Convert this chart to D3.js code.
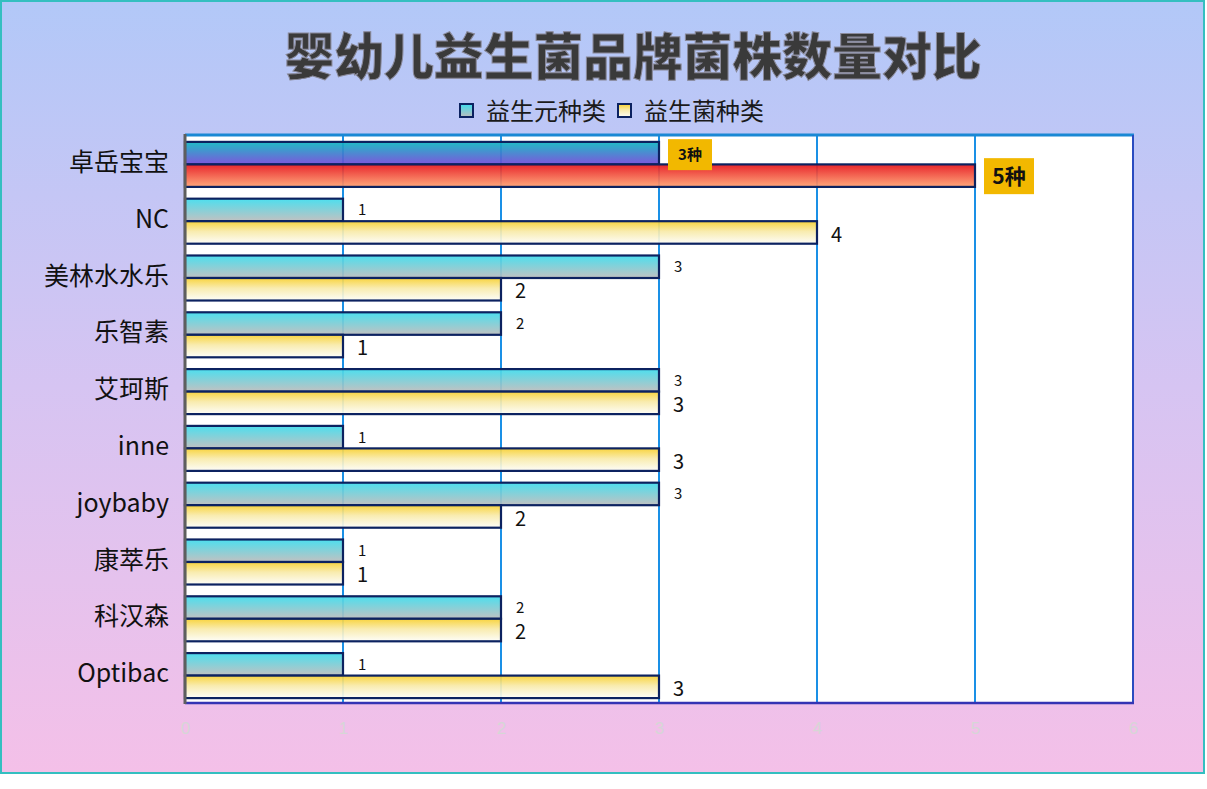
<!DOCTYPE html>
<html><head><meta charset="utf-8">
<script src="https://cdn.jsdelivr.net/npm/d3@7"></script>
<style>html,body{margin:0;padding:0;background:#fff;}svg{display:block;}</style>
</head><body>
<svg id="c" width="1207" height="789"></svg>
<script>
const categories = ['卓岳宝宝','NC','美林水水乐','乐智素','艾珂斯','inne','joybaby','康萃乐','科汉森','Optibac'];
const prebioticTypes = [3,1,3,2,3,1,3,1,2,1];
const probioticTypes = [5,4,2,1,3,3,2,1,2,3];
const seriesNames = ['益生元种类','益生菌种类'];
const xTicks = [0,1,2,3,4,5,6];
const highlightLabels = ['3种','5种'];
const titleText = '婴幼儿益生菌品牌菌株数量对比';

const FONT = '"Noto Sans CJK SC","Noto Sans",sans-serif';
const svg = d3.select('#c');
const defs = svg.append('defs');
function grad(id, c1, c2, stops){
  const g = defs.append('linearGradient').attr('id',id).attr('x1',0).attr('y1',0).attr('x2',0).attr('y2',1);
  (stops||[[0,c1],[1,c2]]).forEach(s=>g.append('stop').attr('offset',s[0]).attr('stop-color',s[1]));
}
grad('bg',null,null,[[0,'#b2c8f8'],[0.5,'#d6c4f2'],[1,'#f4c0e8']]);
grad('s1','#3edced','#bcbcbc');
grad('s2','#f8d02e','#ffffff',[[0,'#f8d02e'],[0.45,'#f8eaa8'],[1,'#fdfdf8']]);
grad('h1','#0cb6c2','#7248d8');
grad('h2','#e6141a','#ffa070');

// background + border
svg.append('rect').attr('x',1).attr('y',1).attr('width',1203).attr('height',772)
  .attr('fill','url(#bg)').attr('stroke','#34bfc0').attr('stroke-width',2);

const L=185,R=1133,T=135,B=703;
const x = d3.scaleLinear().domain([0,6]).range([L,R]);
const y = d3.scaleBand().domain(categories).range([T,B]).padding(0);
const yi = d3.scaleBand().domain([0,1]).range([1,y.bandwidth()+1]).paddingInner(0).paddingOuter(0.262);

// plot background
svg.append('rect').attr('x',L).attr('y',T).attr('width',R-L).attr('height',B-T).attr('fill','#fff');

// gridlines
svg.append('g').selectAll('line').data(xTicks.filter(t=>t>0&&t<6)).join('line')
  .attr('x1',d=>x(d)).attr('x2',d=>x(d)).attr('y1',T).attr('y2',B)
  .attr('stroke','#1a90e6').attr('stroke-width',2);

// bars
const rows = categories.map((c,i)=>({c,i,v:[prebioticTypes[i],probioticTypes[i]]}));
const g = svg.append('g');
rows.forEach(r=>{
  r.v.forEach((v,s)=>{
    const fill = r.i===0 ? (s===0?'url(#h1)':'url(#h2)') : (s===0?'url(#s1)':'url(#s2)');
    g.append('rect').attr('x',x(0)).attr('y',y(r.c)+yi(s))
      .attr('width',x(v)-x(0)).attr('height',yi.bandwidth())
      .attr('fill',fill).attr('fill-opacity',0.92)
      .attr('stroke','#0c2260').attr('stroke-width',2.2);
  });
});

// axis frame
svg.append('line').attr('x1',L).attr('x2',R+1).attr('y1',T).attr('y2',T).attr('stroke','#1a88d4').attr('stroke-width',3);
svg.append('line').attr('x1',R).attr('x2',R).attr('y1',T).attr('y2',B).attr('stroke','#2a4cc0').attr('stroke-width',2);
svg.append('line').attr('x1',L).attr('x2',R+1).attr('y1',B).attr('y2',B).attr('stroke','#3434b4').attr('stroke-width',2.5);
svg.append('line').attr('x1',L).attr('x2',L).attr('y1',T-1).attr('y2',B+1).attr('stroke','#5e5e5e').attr('stroke-width',3);

// x tick labels
const xa = d3.axisBottom(x).tickValues(xTicks).tickFormat(d3.format('d')).tickSize(0).tickPadding(19);
const xg = svg.append('g').attr('transform',`translate(0,${B})`).call(xa);
xg.select('.domain').remove();
xg.selectAll('text').attr('fill','#d6d6d6').attr('font-size',17).attr('font-family','"Liberation Sans",Arial,sans-serif');

// y category labels
const ya = d3.axisLeft(y).tickSize(0).tickPadding(16);
const yg = svg.append('g').attr('transform',`translate(${L},0)`).call(ya);
yg.select('.domain').remove();
yg.selectAll('text').attr('fill','#111').attr('font-size',25).attr('font-family',FONT).attr('dy','0.3em');

// value labels
rows.forEach(r=>{
  if(r.i===0){
    r.v.forEach((v,s)=>{
      const fs = s===0?15:21, bw = s===0?44:50, bh = s===0?31:36;
      const cy = y(r.c)+yi(s)+yi.bandwidth()/2 + (s===0?1.5:0.5);
      const bx = x(v)+9;
      svg.append('rect').attr('x',bx).attr('y',cy-bh/2).attr('width',bw).attr('height',bh).attr('fill','#f2b800');
      svg.append('text').attr('x',bx+bw/2).attr('y',cy).attr('dy','0.36em').attr('text-anchor','middle')
        .attr('font-family',FONT).attr('font-weight',700).attr('font-size',fs).attr('fill','#111')
        .text(highlightLabels[s]);
    });
  } else {
    r.v.forEach((v,s)=>{
      const cy = y(r.c)+yi(s)+yi.bandwidth()/2 + (s===0?0:2);
      svg.append('text').attr('x',x(v)+ (s===0?15:14)).attr('y',cy).attr('dy','0.36em')
        .attr('font-family',FONT).attr('font-size',s===0?15:20).attr('fill','#111').text(v);
    });
  }
});

// legend
const leg = svg.append('g');
const legItems = [{n:seriesNames[0],f:'url(#s1)',x:460},{n:seriesNames[1],f:'url(#s2)',x:618}];
legItems.forEach(d=>{
  leg.append('rect').attr('x',d.x).attr('y',104).attr('width',13).attr('height',13)
    .attr('fill',d.f).attr('stroke','#0c2260').attr('stroke-width',2);
  leg.append('text').attr('x',d.x+26).attr('y',111).attr('dy','0.36em')
    .attr('font-family',FONT).attr('font-size',24).attr('fill','#1a1a1a').text(d.n);
});

// title
svg.append('text').attr('x',633).attr('y',57).attr('dy','0.36em').attr('text-anchor','middle')
  .attr('font-family',FONT).attr('font-weight',900).attr('font-size',50)
  .attr('fill','#3a3a3a').attr('stroke','#8a8a9a').attr('stroke-width',1)
  .attr('textLength',697).attr('lengthAdjust','spacingAndGlyphs')
  .text(titleText);
</script>
</body></html>
